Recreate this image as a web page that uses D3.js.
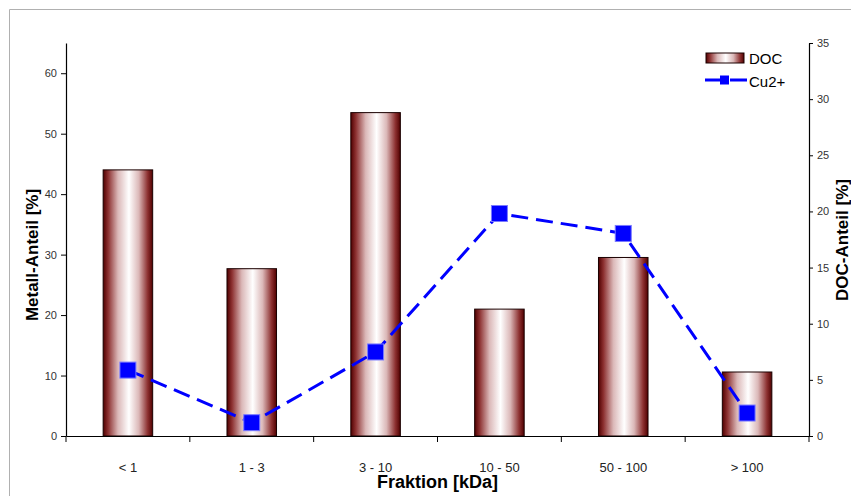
<!DOCTYPE html>
<html>
<head>
<meta charset="utf-8">
<script src="https://cdn.jsdelivr.net/npm/d3@7"></script>
<style>
html,body{margin:0;padding:0;background:#fff;}
svg{display:block;}
text{font-family:"Liberation Sans",Arial,sans-serif;}
</style>
</head>
<body>
<svg id="chart" width="851" height="496"></svg>
<script>
const categories = ["< 1", "1 - 3", "3 - 10", "10 - 50", "50 - 100", "> 100"];
const docValues = [23.7, 14.9, 28.8, 11.3, 15.9, 5.7];
const cuValues = [10.9, 2.2, 13.9, 36.8, 33.5, 3.8];
const leftTicks = [0, 10, 20, 30, 40, 50, 60];
const rightTicks = [0, 5, 10, 15, 20, 25, 30, 35];

const svg = d3.select("#chart");
const L = 66, R = 809, T = 43, B = 436;

// frame
svg.append("path").attr("d", `M9.5,${496} V9.5 H851`).attr("fill","none").attr("stroke","#b0b0b0").attr("stroke-width",1);

const x = d3.scaleBand().domain(categories).range([L, R]).padding(0);
const yL = d3.scaleLinear().domain([0, 65]).range([B, T]);
const yR = d3.scaleLinear().domain([0, 35]).range([B, T]);

const defs = svg.append("defs");
const grad = defs.append("linearGradient").attr("id","barGrad").attr("x1","0").attr("x2","1").attr("y1","0").attr("y2","0");
[[0,"#500000"],[0.1,"#8c3030"],[0.3,"#dbb8b8"],[0.52,"#ffffff"],[0.72,"#dbb8b8"],[0.9,"#8c3030"],[1,"#500000"]]
  .forEach(s => grad.append("stop").attr("offset", s[0]).attr("stop-color", s[1]));

// bars
const bw = x.bandwidth() * 0.4;
svg.append("g").selectAll("rect").data(categories).join("rect")
  .attr("x", d => x(d) + x.bandwidth()/2 - bw/2)
  .attr("y", (d,i) => yR(docValues[i]))
  .attr("width", bw)
  .attr("height", (d,i) => B - yR(docValues[i]))
  .attr("fill", "url(#barGrad)")
  .attr("stroke", "#1a0000").attr("stroke-width", 1);

// axes
const axL = svg.append("g").attr("transform", `translate(${L},0)`)
  .call(d3.axisLeft(yL).tickValues(leftTicks).tickSize(5).tickSizeOuter(0));
const axR = svg.append("g").attr("transform", `translate(${R},0)`)
  .call(d3.axisRight(yR).tickValues(rightTicks).tickSize(4).tickSizeOuter(0));
const axB = svg.append("g").attr("transform", `translate(0,${B})`)
  .call(d3.axisBottom(x).tickSize(0).tickSizeOuter(0));
// boundary ticks for bottom axis
const bounds = categories.map(c => x(c)).concat([R]);
svg.append("g").selectAll("line").data(bounds).join("line")
  .attr("x1", d => d).attr("x2", d => d).attr("y1", B).attr("y2", B + 6)
  .attr("stroke", "#000");

[axL, axR, axB].forEach(a => {
  a.select(".domain").attr("stroke","#000").attr("stroke-width",1.2);
  a.selectAll(".tick line").attr("stroke","#000");
  a.selectAll("text").attr("fill","#333").attr("font-size","11px").attr("font-family","Liberation Sans, Arial, sans-serif");
});
axB.selectAll("text").attr("font-size","13px").attr("dy","0").attr("y", 36)
  .attr("font-family","Liberation Sans Narrow, Liberation Sans, Arial, sans-serif").attr("fill","#222");
axL.selectAll("text").attr("x", -9);
axR.selectAll("text").attr("x", 8);

// line
const line = d3.line().x((d,i) => x(categories[i]) + x.bandwidth()/2).y(d => yL(d));
svg.append("path").datum(cuValues).attr("d", line)
  .attr("fill","none").attr("stroke","#0000ff").attr("stroke-width",3).attr("stroke-dasharray","17,8");
const ms = 16;
svg.append("g").selectAll("rect").data(cuValues).join("rect")
  .attr("x", (d,i) => x(categories[i]) + x.bandwidth()/2 - ms/2)
  .attr("y", d => yL(d) - ms/2)
  .attr("width", ms).attr("height", ms)
  .attr("fill","#0000ff").attr("stroke","#7a7aff").attr("stroke-width",1);

// titles
svg.append("text").attr("transform", `translate(38,255) rotate(-90)`)
  .attr("text-anchor","middle").attr("font-weight","bold").attr("font-size","17px").attr("fill","#000")
  .text("Metall-Anteil [%]");
svg.append("text").attr("transform", `translate(848,240) rotate(-90)`)
  .attr("text-anchor","middle").attr("font-weight","bold").attr("font-size","17px").attr("fill","#000")
  .text("DOC-Anteil [%]");
svg.append("text").attr("x", (L+R)/2).attr("y", 488)
  .attr("text-anchor","middle").attr("font-weight","bold").attr("font-size","18px").attr("fill","#000")
  .attr("font-family","Liberation Sans Narrow, Liberation Sans, Arial, sans-serif")
  .text("Fraktion [kDa]");

// legend
const lg = svg.append("g");
lg.append("rect").attr("x",706).attr("y",53).attr("width",38).attr("height",10)
  .attr("fill","url(#barGrad)").attr("stroke","#1a0000");
lg.append("text").attr("x",749).attr("y",64).attr("font-size","15px").attr("fill","#000").text("DOC");
lg.append("line").attr("x1",705).attr("x2",747).attr("y1",80).attr("y2",80)
  .attr("stroke","#0000ff").attr("stroke-width",3).attr("stroke-dasharray","17,8");
lg.append("rect").attr("x",720).attr("y",75.5).attr("width",9).attr("height",9).attr("fill","#0000ff");
lg.append("text").attr("x",749).attr("y",87).attr("font-size","15px").attr("fill","#000").text("Cu2+");
</script>
</body>
</html>
